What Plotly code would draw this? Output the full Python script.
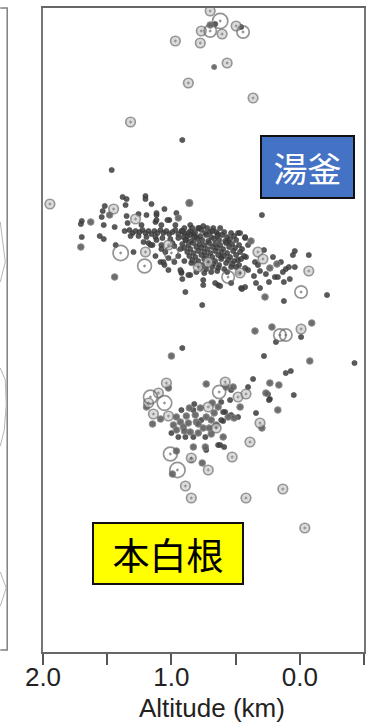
import numpy as np
import plotly.graph_objects as go

# Hypocentres projected on an altitude cross-section.
# alt: altitude (km), dist: horizontal distance along the profile (km), mag: magnitude

# scattered events outside the two clusters
sparse_alt = [0.698, 0.620, 0.698, 0.659, 0.767, 0.698, 0.605, 0.496, 0.442, 0.457,
              0.969, 0.775, 0.566, 0.667, 0.868, 0.364, 1.318, 0.915, 1.465, 1.946,
              0.295, 0.760, 0.124, -0.212, -0.010, 0.271, 0.349, 0.217, 0.155, 0.109,
              -0.010, -0.093, -0.010, 0.186, 0.915, 1.000, 0.279, -0.078, -0.426, 0.109,
              0.070, 0.364, 0.233, 0.163, 0.403, 0.047, 0.171, 0.341,
              0.953, 0.992, 0.891, 0.845, 0.419, 0.132, -0.039, 0.713, 0.760, 0.845,
              1.008, 0.527, 0.388, 0.295, 0.310]
sparse_dist = [6.41, 6.31, 6.27, 6.28, 6.21, 6.21, 6.18, 6.26, 6.20, 6.25,
               6.11, 6.09, 5.89, 5.85, 5.69, 5.54, 5.30, 5.12, 4.82, 4.48,
               4.37, 3.47, 3.51, 3.57, 3.60, 3.55, 3.21, 3.25, 3.17, 3.17,
               3.23, 3.29, 3.15, 3.10, 3.04, 2.96, 2.96, 2.91, 2.89, 2.79,
               2.81, 2.73, 2.69, 2.67, 2.65, 2.57, 2.42, 2.39,
               1.82, 1.78, 1.66, 1.54, 1.54, 1.63, 1.24, 1.82, 1.89, 1.92,
               1.98, 1.95, 2.10, 2.24, 2.29]
sparse_mag = [0.6, 1.4, 0.2, -0.5, 0.6, 1.0, 0.6, 0.6, 1.0, -0.5,
              0.6, 0.6, 0.6, 0.0, 0.6, 0.6, 0.6, -0.5, -0.5, 0.6,
              -0.5, -0.5, -0.5, -0.5, 1.0, 0.2, 0.2, 0.2, 1.0, 1.0,
              0.6, 0.2, -0.5, -0.5, -0.5, 0.2, -0.5, 0.2, -0.5, -0.5,
              -0.5, -0.5, 0.2, 0.2, -0.5, -0.5, 0.2, -0.5,
              1.4, 0.2, 0.6, 0.6, 0.6, 0.6, 0.6, 0.6, 0.2, -0.5,
              1.2, 0.6, 0.6, 0.2, 0.6]

# upper cluster
upper_alt = [1.380, 1.349, 1.202, 1.202, 1.155, 1.357, 1.054, 0.860, 1.519, 1.535,
             1.450, 1.481, 1.628, 1.698, 1.705, 1.543, 1.527, 1.442, 1.349, 1.279,
             1.341, 1.233, 1.194, 1.116, 1.256, 1.124, 1.078, 1.016, 0.969, 1.698,
             1.558, 1.527, 1.705, 1.434, 1.395, 1.295, 1.202, 1.147, 1.078, 1.047,
             1.000, 1.209, 1.085, 1.054, 1.023, 1.442, 0.891, 0.922, 0.915, 0.853,
             0.845, 1.217, 1.178,
             1.364, 1.326, 1.302, 1.279, 1.248, 1.225, 1.202, 1.178, 1.155, 1.132,
             1.109, 1.085, 1.062, 1.039, 1.016, 0.992, 0.969, 0.946, 0.922, 0.899,
             0.876, 0.853, 0.829, 0.806, 1.318, 1.256, 1.194, 1.124, 1.070, 1.008,
             0.946, 0.884,
             1.116, 1.116, 1.031, 0.961, 0.946, 0.853, 0.791, 0.752, 0.698, 0.651,
             0.481, 0.426, 0.403, 0.558, 1.023, 1.163, 1.062, 0.922, 0.868, 0.791,
             0.752, 0.558, 0.465, 0.403, 0.419, 0.349, 0.636, 0.426, 0.535,
             0.465, 0.426, 0.380, 0.326, 0.287, 0.039, 0.054, -0.070, 0.178, 0.233,
             0.109, 0.085, 0.039, -0.070, 0.194, 0.171, 0.310, 0.326, 0.457, 0.310,
             0.752, 0.930, 0.690, 0.659, 0.535, 0.481, 0.612, 0.620, 0.450, 0.713,
             0.899, 0.837, 0.783, 0.721, 0.674, 0.620,
             0.915, 0.868, 0.814, 0.767, 0.736, 0.682, 0.636, 0.589, 0.535,
             0.907, 0.853, 0.822, 0.775, 0.729, 0.690, 0.643, 0.605, 0.566, 0.512,
             0.891, 0.845, 0.798, 0.760, 0.713, 0.667, 0.628, 0.581, 0.543, 0.496,
             0.915, 0.868, 0.829, 0.783, 0.744, 0.705, 0.659, 0.620, 0.574, 0.527, 0.473,
             0.899, 0.853, 0.806, 0.767, 0.721, 0.682, 0.643, 0.597, 0.550, 0.504, 0.450,
             0.876, 0.829, 0.791, 0.744, 0.698, 0.659, 0.612, 0.566, 0.519, 0.465,
             0.860, 0.814, 0.767, 0.729, 0.682, 0.636, 0.589, 0.543, 0.496, 0.434,
             0.837, 0.791, 0.744, 0.705, 0.659, 0.612, 0.558, 0.512, 0.457,
             0.806, 0.760, 0.713, 0.674, 0.628, 0.574, 0.527, 0.473,
             0.775, 0.729, 0.682, 0.636, 0.589, 0.496, 0.426,
             0.806, 0.744, 0.643, 0.566, 0.473,
             1.116, 1.078, 0.977, 0.946, 0.899, 0.977, 1.023, 1.124, 0.992, 0.930,
             0.264, 0.357, 0.124, 0.078, 0.240, 0.341, 0.147, 0.209, 0.279, 0.132]
upper_dist = [4.55, 4.53, 4.56, 4.53, 4.48, 4.47, 4.43, 4.49, 4.46, 4.41,
              4.43, 4.37, 4.30, 4.31, 4.28, 4.35, 4.27, 4.25, 4.36, 4.33,
              4.29, 4.27, 4.37, 4.37, 4.38, 4.30, 4.27, 4.32, 4.27, 4.15,
              4.16, 4.13, 4.05, 4.07, 3.99, 4.00, 4.00, 4.07, 4.07, 4.00,
              3.99, 3.86, 3.90, 3.87, 3.82, 3.75, 3.60, 3.80, 3.73, 3.77,
              3.89, 4.10, 4.09,
              4.21, 4.22, 4.19, 4.21, 4.20, 4.22, 4.19, 4.21, 4.18, 4.21,
              4.19, 4.22, 4.19, 4.21, 4.18, 4.20, 4.22, 4.18, 4.21, 4.19,
              4.16, 4.21, 4.18, 4.15, 4.16, 4.16, 4.15, 4.15, 4.14, 4.13,
              4.14, 4.12,
              4.39, 4.32, 4.32, 4.39, 4.34, 4.27, 4.24, 4.26, 4.20, 4.20,
              4.19, 4.14, 4.07, 4.10, 4.07, 4.07, 3.90, 3.79, 3.77, 3.85,
              3.72, 3.75, 3.79, 3.82, 3.95, 3.90, 3.67, 3.65, 3.69,
              4.19, 4.15, 4.11, 4.00, 3.93, 4.01, 3.97, 3.97, 3.88, 3.84,
              3.83, 3.85, 3.85, 3.81, 3.75, 3.75, 3.81, 3.87, 3.64, 3.64,
              3.67, 3.82, 3.80, 3.69, 3.85, 3.92, 3.95, 3.66, 3.63, 3.90,
              4.24, 4.24, 4.24, 4.24, 4.24, 4.24,
              4.21, 4.19, 4.20, 4.22, 4.19, 4.21, 4.18, 4.20, 4.19,
              4.15, 4.17, 4.15, 4.16, 4.17, 4.15, 4.16, 4.17, 4.15, 4.16,
              4.12, 4.11, 4.13, 4.12, 4.11, 4.13, 4.12, 4.11, 4.13, 4.12,
              4.08, 4.07, 4.09, 4.08, 4.07, 4.09, 4.08, 4.07, 4.09, 4.08, 4.07,
              4.04, 4.03, 4.05, 4.04, 4.03, 4.05, 4.04, 4.03, 4.05, 4.04, 4.03,
              4.00, 3.99, 4.01, 4.00, 3.99, 4.01, 4.00, 3.99, 4.01, 4.00,
              3.96, 3.95, 3.97, 3.96, 3.95, 3.97, 3.96, 3.95, 3.97, 3.96,
              3.92, 3.91, 3.93, 3.92, 3.91, 3.93, 3.92, 3.91, 3.93,
              3.88, 3.87, 3.89, 3.88, 3.87, 3.89, 3.88, 3.87,
              3.84, 3.83, 3.85, 3.84, 3.83, 3.85, 3.84,
              3.80, 3.79, 3.81, 3.80, 3.79,
              4.12, 4.03, 4.06, 3.96, 3.91, 3.90, 3.94, 3.96, 4.09, 4.03,
              3.78, 3.76, 3.70, 3.73, 3.70, 3.69, 3.90, 3.95, 4.02, 3.80]
upper_mag = [-0.5, -0.5, -0.5, -0.5, -0.5, -0.5, -0.5, 0.3, -0.5, -0.5,
             0.6, 0.2, 0.2, -0.5, -0.5, -0.5, -0.5, -0.5, -0.5, 0.6,
             -0.5, -0.5, -0.5, -0.5, -0.5, -0.5, -0.5, -0.5, -0.5, -0.5,
             -0.5, -0.5, 0.2, -0.5, 1.4, -0.5, 0.6, -0.5, -0.5, -0.5,
             1.2, 1.2, -0.5, -0.5, -0.5, 0.2, -0.5, -0.5, -0.5, -0.5,
             -0.5, -0.5, -0.5] + [-0.5] * 32 + \
            [-0.5, -0.5, -0.5, -0.5, 0.2, -0.5, -0.5, -0.5, -0.5, -0.5,
             -0.5, -0.5, -0.5, -0.5, 0.6, -0.5, -0.5, -0.5, -0.5, 0.6,
             -0.5, 1.0, 0.6, -0.5, -0.5, -0.5, -0.5, -0.5, -0.5,
             -0.5, -0.5, 0.2, 0.6, 0.6, -0.5, -0.5, -0.5, 0.2, 0.2,
             -0.5, -0.5, -0.5, 0.6, -0.5, -0.5, -0.5, -0.5, -0.5, -0.5,
             -0.5, -0.5, -0.5, -0.5, -0.5, -0.5, -0.5, -0.5, -0.5, 0.6] + \
            [-0.5] * 106 + [-0.5] * 20

# lower cluster
lower_alt = [1.039, 1.023, 1.163, 1.101, 1.054, 1.178, 1.194, 1.140, 1.023, 1.085,
             1.147, 0.961, 0.930, 0.984, 0.961, 1.000, 0.907, 0.868, 0.853, 0.814,
             0.775, 0.860, 0.713, 0.682, 0.636, 0.667, 0.729, 0.690, 0.651, 0.651,
             0.752, 0.791, 0.829, 0.891, 0.806, 0.767, 0.729, 0.628, 0.581, 0.574,
             0.519, 0.481, 0.419, 0.543, 0.612, 0.581, 0.535, 0.481, 0.597, 0.264,
             0.233, 0.597, 0.829, 0.736, 0.729, 0.636, 0.589, 0.961, 0.845,
             0.465, 0.558, 0.512, 0.597, 0.612, 0.620, 0.535, 0.248, 0.240,
             0.922, 0.884, 0.829, 0.791, 0.705, 0.899, 0.946, 0.736, 0.690, 0.822]
lower_dist = [2.69, 2.64, 2.55, 2.59, 2.49, 2.49, 2.45, 2.38, 2.36, 2.33,
              2.28, 2.35, 2.30, 2.27, 2.22, 2.19, 2.25, 2.29, 2.20, 2.37,
              2.44, 2.44, 2.45, 2.49, 2.45, 2.39, 2.35, 2.32, 2.27, 2.24,
              2.24, 2.19, 2.15, 2.15, 2.30, 2.32, 2.68, 2.60, 2.70, 2.65,
              2.65, 2.55, 2.58, 2.52, 2.50, 2.40, 2.37, 2.35, 2.31, 2.59,
              2.53, 2.15, 2.05, 2.05, 2.02, 2.07, 2.05, 2.01, 1.94,
              2.45, 2.35, 2.34, 2.40, 2.32, 2.07, 2.62, 2.58, 2.52,
              2.42, 2.36, 2.42, 2.28, 2.24, 2.21, 2.15, 2.15, 2.18, 2.48]
lower_mag = [0.6, 0.2, 1.2, 0.6, 1.3, 0.6, 0.2, 0.6, 0.6, 0.2,
             0.2, 0.2, 0.2, 0.2, 0.2, -0.5, 0.2, 0.2, 0.2, 0.2,
             0.2, 0.2, 0.6, 0.2, 0.2, 0.2, 0.2, 0.2, 0.2, 0.6,
             0.2, 0.2, -0.5, -0.5, 0.2, -0.5, 0.2, 1.1, 0.6, 0.2,
             0.2, 0.6, 0.6, -0.5, -0.5, -0.5, -0.5, -0.5, -0.5, 0.2,
             -0.5, 0.2, 0.2, 0.2, -0.5, -0.5, -0.5, 0.2, 0.6,
             0.2, 0.2, 0.2, -0.5, -0.5, -0.5, -0.5, -0.5, -0.5,
             -0.5, 0.2, -0.5, 0.2, 0.2, 0.2, -0.5, -0.5, 0.2, -0.5]

alt_ticks = [2.0, 1.5, 1.0, 0.5, 0.0, -0.5]
alt_tick_text = ["2.0", "", "1.0", "", "0.0", ""]

alt = np.array(sparse_alt + upper_alt + lower_alt)
dist = np.array(sparse_dist + upper_dist + lower_dist)
mag = np.array(sparse_mag + upper_mag + lower_mag)
size = 5.2 + 7.2 * np.clip(mag, 0, None)

fig = go.Figure()

classes = [
    (mag < 0, dict(symbol="circle", color="#444444", opacity=0.88,
                   line=dict(color="#2e2e2e", width=0.6))),
    ((mag >= 0) & (mag < 0.5), dict(symbol="circle", color="#5e5e5e", opacity=0.9,
                                    line=dict(color="#858585", width=1))),
    ((mag >= 0.5) & (mag < 1.0), dict(symbol="circle-dot", color="#cdcdcd",
                                      line=dict(color="#6a6a6a", width=1.7))),
    (mag >= 1.0, dict(symbol="circle-open-dot", color="#666666",
                      line=dict(color="#666666", width=1.7))),
]
for mask, style in classes:
    fig.add_trace(go.Scatter(
        x=alt[mask], y=dist[mask], mode="markers",
        marker=dict(size=size[mask], **style),
        showlegend=False, hoverinfo="skip"))

# neighbouring panel edge with faint contour lines (left margin)
def px_to_paper(xp, yp):
    return (xp - 43) / 323, (652 - yp) / 644

panel_lines = [
    [(0, 8), (7, 8), (7, 650), (0, 650)],
]
contours = [
    [(0, 222), (5, 262), (0, 282)],
    [(0, 368), (5, 380), (6, 405), (4, 430), (0, 446)],
    [(0, 572), (6, 588), (0, 606)],
]
for pts, col, w in [(p, "#808080", 1.5) for p in panel_lines] + [(p, "#b5b5b5", 1) for p in contours]:
    conv = [px_to_paper(a, b) for a, b in pts]
    path = "M " + " L ".join(f"{a:.4f},{b:.4f}" for a, b in conv)
    fig.add_shape(type="path", path=path, xref="paper", yref="paper",
                  line=dict(color=col, width=w))

fig.add_annotation(x=-0.058, y=4.85, xref="x", yref="y", text="湯釜",
                   showarrow=False, font=dict(family="Noto Sans CJK JP", size=34, color="white"),
                   bgcolor="#4472C4", bordercolor="#111111", borderwidth=2, borderpad=0,
                   width=91, height=60)
fig.add_annotation(x=1.027, y=0.985, xref="x", yref="y", text="本白根",
                   showarrow=False, font=dict(family="Noto Sans CJK JP", size=37, color="black"),
                   bgcolor="#FFFF00", bordercolor="#111111", borderwidth=2, borderpad=0,
                   width=148, height=59)
fig.add_annotation(x=0.526, y=-0.0875, xref="paper", yref="paper", text="Altitude (km)",
                   showarrow=False, yanchor="middle",
                   font=dict(family="Liberation Sans", size=26, color="#222222"))

fig.update_layout(
    width=372, height=724,
    margin=dict(l=43, r=6, t=8, b=72),
    paper_bgcolor="white", plot_bgcolor="white",
    xaxis=dict(range=[2.0, -0.5], tickvals=alt_ticks, ticktext=alt_tick_text,
               ticks="outside", ticklen=11, tickwidth=2, tickcolor="#555555",
               ticklabelstandoff=-10,
               showline=True, linecolor="#666666", linewidth=2, mirror=True,
               showgrid=False, zeroline=False,
               tickfont=dict(family="Liberation Sans", size=26, color="#222222")),
    yaxis=dict(range=[0, 6.44], showticklabels=False, ticks="",
               showline=True, linecolor="#777777", linewidth=2, mirror=True,
               showgrid=False, zeroline=False),
)

fig.write_html("out.html")
